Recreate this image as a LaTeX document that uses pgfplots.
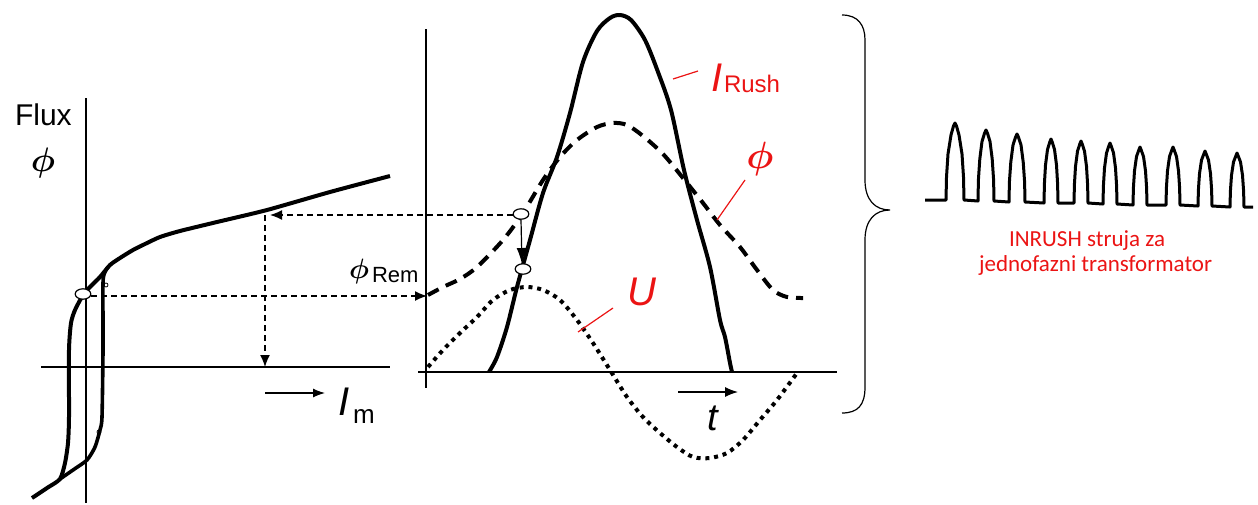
\RequirePackage{fix-cm}
\documentclass[border=0pt]{standalone}
\usepackage{fontspec}
\setmainfont{Liberation Sans}
\newfontfamily\carlito{Carlito}
\usepackage{pgfplots}
\pgfplotsset{compat=1.18}
\usetikzlibrary{arrows.meta}

\definecolor{lblred}{RGB}{235,20,20}

\begin{document}
\begin{tikzpicture}
\begin{axis}[
  scale only axis, width=629pt, height=252pt,
  xmin=0, xmax=1258, ymin=0, ymax=504, y dir=reverse,
  axis lines=none, clip=false,
  every node/.style={inner sep=0pt},
]
% frame of the picture
\addplot[draw=none] coordinates {(0,0)(1258,504)};

% ---------- left panel: magnetisation curve ----------
\addplot[black, line width=1pt] coordinates {(86,98)(86,503)};
\addplot[black, line width=1pt] coordinates {(41,367)(390,367)};
\addplot[black, line width=2pt, smooth, tension=0.4] coordinates {
  (390,176)(330,192)(267,210)(217,222)(180,231)(160,237)(145,244)(133,250)
  (120,258)(110,265)(100,277)(90,287)(83,295)(75,310)(71,323)(69,350)
  (69,417)(68,443)(65,463)(60,479)(47,488)(32,498)};
\addplot[black, line width=1.8pt, smooth, tension=0.4] coordinates {
  (108,267)(105,272)(103,283)(103,350)(102,417)(100,430)(95,447)(87,460)
  (73,470)(60,479)};
\addplot[black, line width=0.7pt, dash pattern=on 3pt off 2pt, -{Latex[length=6pt,width=5pt]}]
  coordinates {(513,215)(270,215)};
\addplot[black, line width=0.7pt, dash pattern=on 3pt off 2pt, -{Latex[length=6pt,width=5pt]}]
  coordinates {(265,215)(265,367)};
\addplot[black, line width=0.7pt, dash pattern=on 3pt off 2pt, -{Latex[length=6pt,width=5pt]}]
  coordinates {(91,296)(427,296)};
\addplot[black, line width=0.6pt, -{Latex[length=6pt,width=4.5pt]}]
  coordinates {(265,393)(325,393)};

\node[anchor=base west, font=\fontsize{15}{15}\selectfont] at (axis cs:8,125) {Flux};
\node[font=\fontsize{17}{17}\selectfont\boldmath] at (axis cs:43,163) {$\phi$};
\node[anchor=base west, font=\fontsize{14}{14}\selectfont\boldmath] at (axis cs:342,278) {$\phi$};
\node[anchor=base west, font=\fontsize{11}{11}\selectfont] at (axis cs:365,282) {Rem};
\node[anchor=base west, font=\fontsize{20}{20}\selectfont\itshape] at (axis cs:331,415) {I};
\node[anchor=base west, font=\fontsize{13}{13}\selectfont] at (axis cs:346,423) {m};

% ---------- middle panel: time curves ----------
\addplot[black, line width=1.2pt] coordinates {(426,29)(426,388)};
\addplot[black, line width=1.2pt] coordinates {(418,372)(837,372)};
% I_Rush
\addplot[black, line width=2pt, smooth, tension=0.5] coordinates {
  (489,372)(497,357)(507,327)(517,287)(530,240)(543,193)(557,157)(570,113)
  (583,62)(597,31)(610,18)(620,15)(631,20)(645,40)(658,72)(671,110)(684,170)
  (697,220)(710,267)(720,320)(725,337)(730,363)(732,372)};
% flux
\addplot[black, line width=2pt, dash pattern=on 6pt off 4pt, smooth, tension=0.5] coordinates {
  (428,295)(443,287)(460,279)(477,267)(503,240)(523,213)(543,180)(560,157)
  (577,140)(597,127)(613,123)(627,125)(643,136)(663,154)(683,178)(703,203)
  (720,225)(740,247)(757,270)(773,290)(787,297)(803,298)};
% voltage
\addplot[black, line width=2pt, dash pattern=on 2pt off 2.4pt, smooth, tension=0.5] coordinates {
  (428,367)(443,350)(460,333)(477,317)(493,300)(510,290)(527,287)(543,290)
  (560,300)(577,320)(593,343)(610,370)(627,397)(643,417)(660,433)(677,447)
  (693,457)(710,458)(727,453)(743,440)(760,420)(777,400)(797,373)};
\addplot[black, line width=0.6pt, -{Latex[length=8pt,width=5pt]}]
  coordinates {(521,220)(522,264)};
\addplot[black, line width=0.6pt, -{Latex[length=6.5pt,width=5pt]}]
  coordinates {(678,392)(738,392)};
\addplot[only marks, mark=*, mark size=2.6pt,
  mark options={fill=white, draw=black, line width=0.6pt, xscale=1.5}]
  coordinates {(83,294)(521,214)(523,269)};
\addplot[only marks, mark=o, mark size=1pt, mark options={line width=0.4pt}]
  coordinates {(106,285)(99,432)};

% red labels
\addplot[lblred, line width=0.6pt] coordinates {(673,79)(698,71)};
\addplot[lblred, line width=0.6pt] coordinates {(717,220)(745,180)};
\addplot[lblred, line width=0.6pt] coordinates {(578,332)(613,308)};
\node[anchor=base west, text=lblred, font=\fontsize{20}{20}\selectfont\itshape] at (axis cs:704,91) {I};
\node[anchor=base west, text=lblred, font=\fontsize{12}{12}\selectfont] at (axis cs:717,92) {Rush};
\node[text=lblred, font=\fontsize{19}{19}\selectfont\boldmath] at (axis cs:760,159) {$\phi$};
\node[anchor=base west, text=lblred, font=\fontsize{20}{20}\selectfont\itshape] at (axis cs:620,305) {U};
\node[anchor=base west, font=\fontsize{19}{19}\selectfont\itshape] at (axis cs:700,430) {t};

% brace
\draw[black, line width=0.6pt]
  (axis cs:842,15) .. controls (axis cs:858,15) and (axis cs:865,25) .. (axis cs:865,40)
  -- (axis cs:865,180) .. controls (axis cs:865,200) and (axis cs:875,210) .. (axis cs:890,210)
  .. controls (axis cs:875,210) and (axis cs:865,220) .. (axis cs:865,240)
  -- (axis cs:865,387) .. controls (axis cs:865,405) and (axis cs:858,413) .. (axis cs:842,413);

% ---------- right panel: recorded inrush current ----------
\addplot[black, line width=1.5pt, line join=round] coordinates {
  (925,200)(946,200)(946.5,177)(948,154)(951,135)(953.5,126)(955,123)(956.5,126)(959,135)(962,154)(963.5,177)(964,200)
  (978,201)(978.4,180)(979.8,159)(982,141.5)(984.6,133)(986,130)(987.4,133)(990,141.5)(992.2,159)(993.6,180)(994,201)
  (1009,202)(1009.4,182)(1010.8,162)(1013,145)(1015.6,137)(1017,134)(1018.4,137)(1021,145)(1023.2,162)(1024.6,182)(1025,202)
  (1044,203)(1044.4,184)(1045.5,165)(1047.5,149.5)(1049.8,142)(1051,139)(1052.2,142)(1054.5,149.5)(1056.5,165)(1057.6,184)(1058,203)
  (1074,203)(1074.4,184.7)(1075.5,166.4)(1077.5,151.2)(1079.8,144)(1081,141)(1082.2,144)(1084.5,151.2)(1086.5,166.4)(1087.6,184.7)(1088,203)
  (1103,204)(1103.4,186)(1104.5,168)(1106.5,153)(1108.8,146)(1110,143)(1111.2,146)(1113.5,153)(1115.5,168)(1116.6,186)(1117,204)
  (1133,205)(1133.4,187.9)(1134.5,170.8)(1136.5,156.6)(1138.8,150)(1140,147)(1141.2,150)(1143.5,156.6)(1145.5,170.8)(1146.6,187.9)(1147,205)
  (1166,205)(1166.4,187.9)(1167.5,170.8)(1169.5,156.6)(1171.8,150)(1173,147)(1174.2,150)(1176.5,156.6)(1178.5,170.8)(1179.6,187.9)(1180,205)
  (1198,206)(1198.4,189.8)(1199.5,173.6)(1201.5,160.1)(1203.8,154)(1205,151)(1206.2,154)(1208.5,160.1)(1210.5,173.6)(1211.6,189.8)(1212,206)
  (1230,207)(1230.4,191.1)(1231.5,175.2)(1233.5,162)(1235.8,156)(1237,153)(1238.2,156)(1240.5,162)(1242.5,175.2)(1243.6,191.1)(1244,207)
  (1253,207)};
\node[anchor=base west, text=lblred, font=\carlito\fontsize{11.5}{11.5}\selectfont] at (axis cs:1002,246) {INRUSH struja za};
\node[anchor=base west, text=lblred, font=\carlito\fontsize{11.5}{11.5}\selectfont] at (axis cs:972,271) {jednofazni transformator};
\end{axis}
\end{tikzpicture}
\end{document}
